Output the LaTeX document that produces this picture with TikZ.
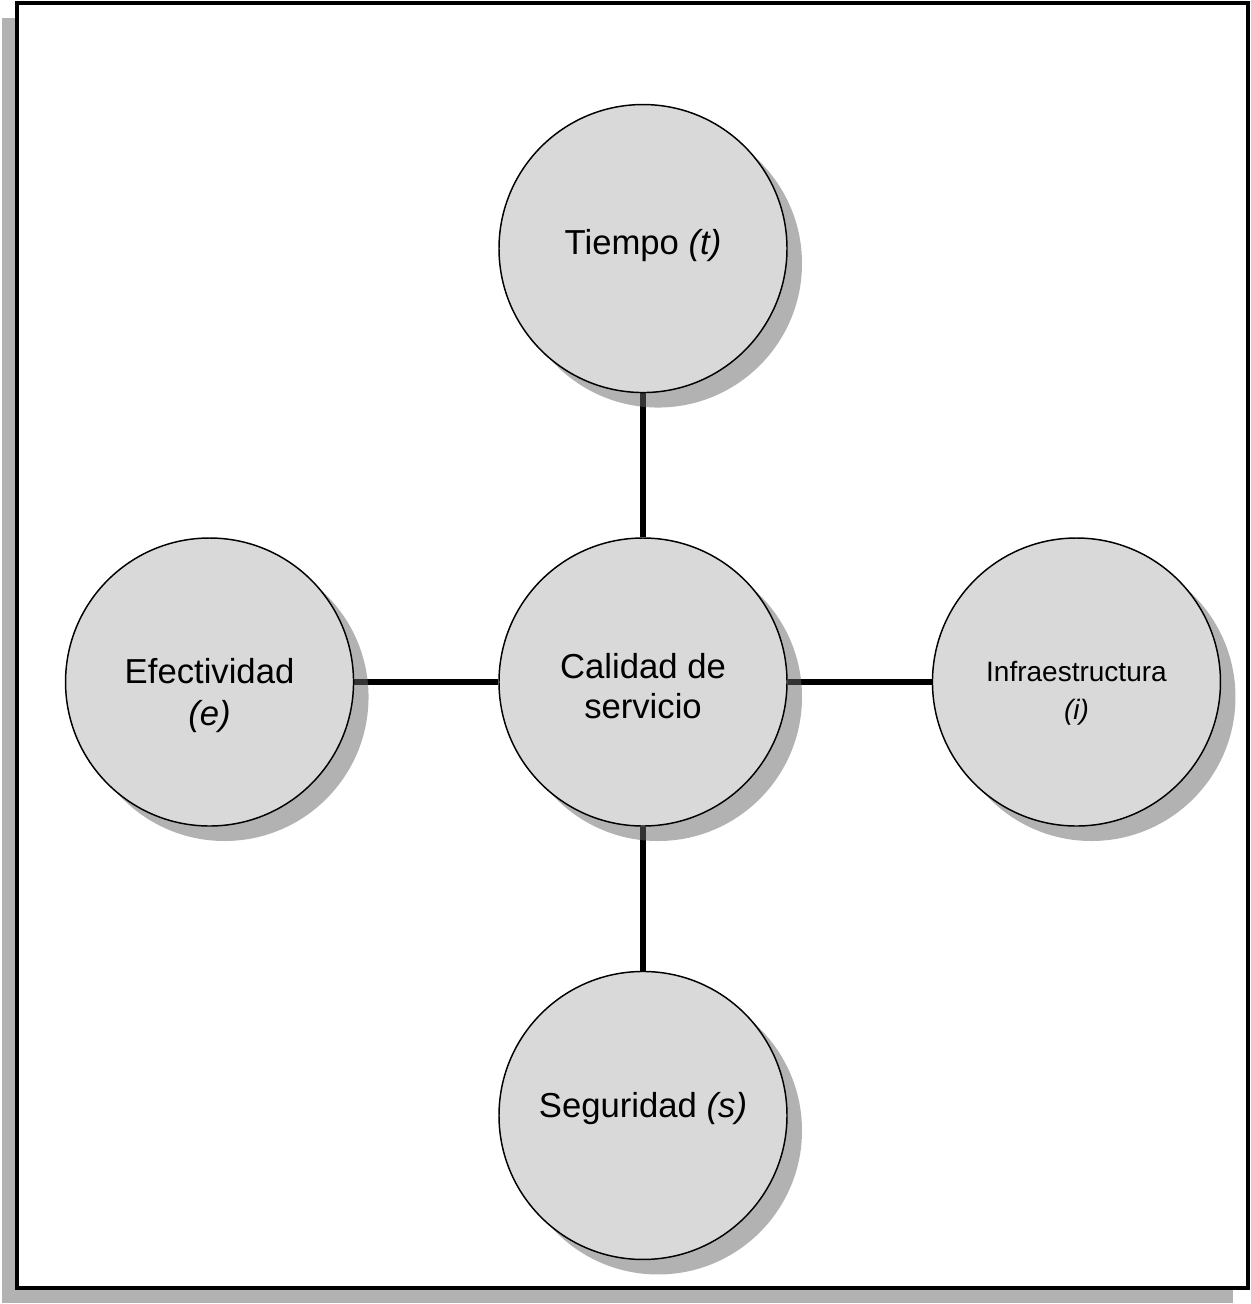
\documentclass[tikz,border=0pt]{standalone}
\usepackage{fontspec}
\setmainfont{Liberation Sans}
\usetikzlibrary{positioning,shadows,backgrounds}
\definecolor{circfill}{RGB}{217,217,217}
\definecolor{shadegray}{RGB}{102,102,102}

\begin{document}
\begin{tikzpicture}[x=0.75pt, y=-0.75pt,
  node distance=108pt,
  every node/.style={font=\fontsize{26}{31}\selectfont},
  factor/.style={shape=circle, draw, line width=1.1pt, fill=circfill,
    minimum size=216pt, inner sep=0pt, align=center,
    drop shadow={shadow xshift=11.25pt, shadow yshift=-11.25pt,
      fill=shadegray, opacity=.5}},
  link/.style={draw, line width=4.5pt}]
  \useasboundingbox (0,0) rectangle (1251,1304);
  \node[factor, font=\fontsize{26}{30}\selectfont, text height=54pt,
    text depth=0pt] (calidad) at (643,682) {Calidad de\\servicio};
  \node[factor, above=of calidad, text height=19pt, text depth=10pt]
    (tiempo) {Tiempo \textit{(t)}};
  \node[factor, below=of calidad, text height=19pt, text depth=16pt]
    (seguridad) {Seguridad \textit{(s)}};
  \node[factor, left=of calidad, text height=70pt, text depth=5.5pt]
    (efectividad) {Efectividad\\\textit{(e)}};
  \node[factor, right=of calidad, font=\fontsize{21}{28.5}\selectfont,
    text height=60pt, text depth=4.4pt] (infra) {Infraestructura\\\textit{(i)}};
  \begin{scope}[on background layer]
    % marco con sombra
    \fill[shadegray, opacity=.5] (2,18) rectangle (1233,1303);
    \draw[line width=3pt, fill=white] (17,3) rectangle (1248,1288);
    % enlaces
    \draw[link] (tiempo) -- (calidad);
    \draw[link] (seguridad) -- (calidad);
    \draw[link] (efectividad) -- (calidad);
    \draw[link] (infra) -- (calidad);
  \end{scope}
\end{tikzpicture}
\end{document}
